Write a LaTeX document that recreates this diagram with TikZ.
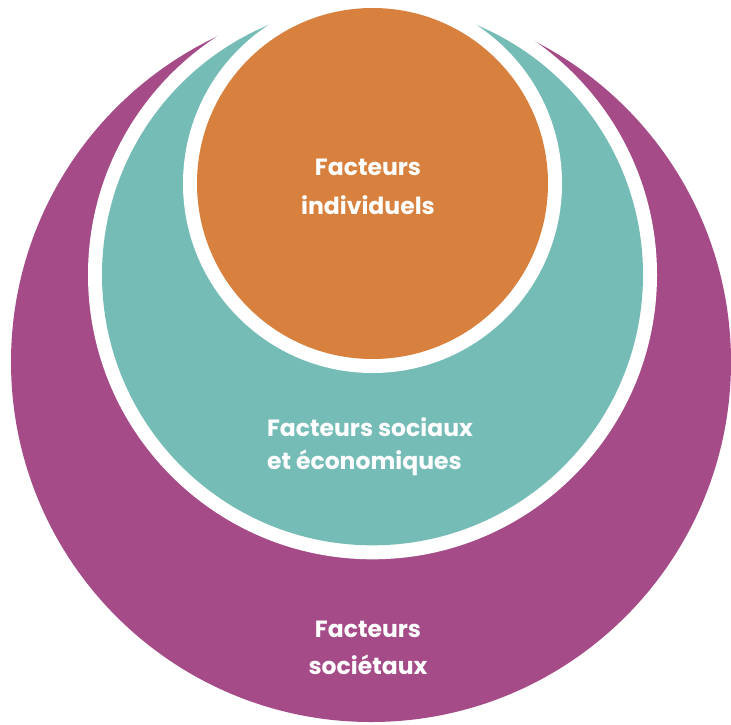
\documentclass[tikz,border=0pt]{standalone}
\usepackage{fontspec}
\newfontfamily\labelfont{Poppins}
\definecolor{purp}{RGB}{165,75,135}
\definecolor{tealc}{RGB}{117,188,183}
\definecolor{orng}{RGB}{216,129,62}
\begin{document}
\begin{tikzpicture}[x=1pt,y=-1pt,
  lbl/.style={text=white, inner sep=0pt},
  halo/.style={fill=white}]
\useasboundingbox (0,0) rectangle (731,724);
\clip (0,0) rectangle (731,724);
\fill[purp] (371,362) circle[radius=360pt];
\fill[halo] (372.5,274.8) circle[radius=284.5pt];
\fill[tealc] (372.5,274.8) circle[radius=270.5pt];
\fill[halo] (372.5,183.5) circle[radius=189.5pt];
\fill[orng] (372.5,183.5) circle[radius=175.5pt];
\node[lbl, align=center, font=\labelfont\bfseries\fontsize{23.5}{39}\selectfont] (indiv) at (368,187) {Facteurs\\individuels};
\node[lbl, align=left, font=\labelfont\bfseries\fontsize{23.5}{33}\selectfont] (social) at (370,447) {Facteurs sociaux\\et économiques};
\node[lbl, align=center, font=\labelfont\bfseries\fontsize{23.5}{37}\selectfont] (societ) at (368,648) {Facteurs\\sociétaux};
\end{tikzpicture}
\end{document}
